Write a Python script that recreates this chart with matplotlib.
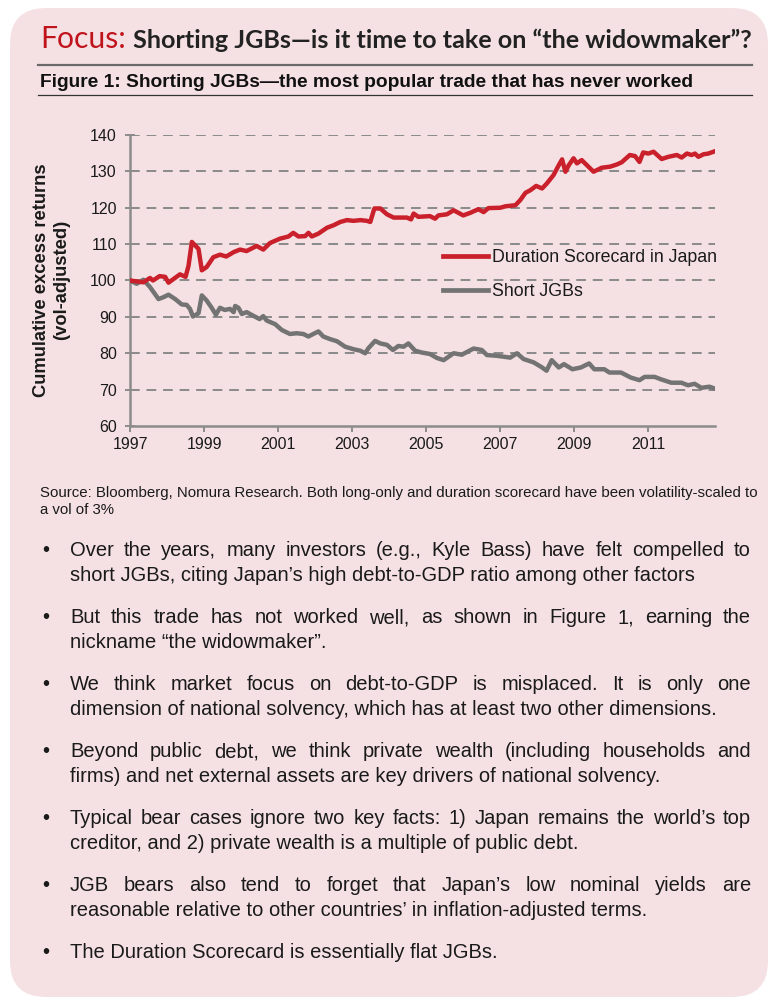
import matplotlib
matplotlib.use("Agg")
import matplotlib.pyplot as plt
from matplotlib.patches import FancyBboxPatch
from matplotlib.lines import Line2D
from matplotlib.transforms import IdentityTransform

W, H = 776, 1000

# ---- data (decimal years) ----
red_t = [1997.0, 1997.36, 1997.54, 1997.62, 1997.8, 1997.95, 1998.04, 1998.35, 1998.5, 1998.58,
         1998.67, 1998.85, 1998.94, 1999.07, 1999.25, 1999.43, 1999.6, 1999.8, 1999.97, 2000.15,
         2000.42, 2000.6, 2000.78, 2001.05, 2001.28, 2001.41, 2001.55, 2001.73, 2001.82, 2001.91,
         2002.09, 2002.32, 2002.5, 2002.68, 2002.86, 2003.04, 2003.22, 2003.4, 2003.49, 2003.6,
         2003.76, 2003.94, 2004.12, 2004.48, 2004.59, 2004.66, 2004.79, 2005.1, 2005.2, 2005.24,
         2005.33, 2005.56, 2005.74, 2006.0, 2006.19, 2006.41, 2006.55, 2006.68, 2007.0, 2007.14,
         2007.41, 2007.54, 2007.68, 2007.81, 2007.97, 2008.13, 2008.26, 2008.44, 2008.58, 2008.67,
         2008.76, 2008.85, 2008.98, 2009.07, 2009.2, 2009.34, 2009.52, 2009.74, 2009.97, 2010.15,
         2010.28, 2010.5, 2010.64, 2010.76, 2010.86, 2011.0, 2011.14, 2011.36, 2011.54, 2011.77,
         2011.9, 2012.04, 2012.17, 2012.26, 2012.35, 2012.49, 2012.62, 2012.76]
red_v = [100.0, 99.5, 100.7, 100.0, 101.2, 101.0, 99.4, 101.7, 101.0, 104.0,
         110.6, 108.7, 102.8, 103.7, 106.4, 107.1, 106.6, 107.8, 108.5, 108.1,
         109.5, 108.5, 110.3, 111.5, 112.1, 113.1, 112.1, 112.2, 113.1, 112.1,
         112.9, 114.5, 115.2, 116.1, 116.6, 116.4, 116.6, 116.4, 116.1, 119.8,
         119.8, 118.2, 117.3, 117.3, 116.8, 118.4, 117.5, 117.7, 117.2, 117.0,
         117.9, 118.2, 119.3, 117.9, 118.6, 119.6, 118.8, 119.9, 120.0, 120.4,
         120.7, 122.1, 124.1, 124.8, 126.0, 125.3, 126.7, 129.0, 131.7, 133.3,
         129.9, 131.7, 133.6, 132.2, 133.1, 131.7, 129.9, 131.0, 131.3, 131.9,
         132.5, 134.5, 134.2, 132.6, 135.2, 134.9, 135.4, 133.4, 134.0, 134.5,
         133.8, 134.9, 134.5, 134.9, 134.0, 134.7, 134.9, 135.4]

gray_t = [1997.0, 1997.18, 1997.36, 1997.54, 1997.77, 1997.9, 1998.04, 1998.22, 1998.4, 1998.53,
          1998.62, 1998.7, 1998.85, 1998.94, 1999.07, 1999.2, 1999.32, 1999.43, 1999.56, 1999.7,
          1999.8, 1999.84, 1999.93, 2000.02, 2000.15, 2000.33, 2000.5, 2000.6, 2000.69, 2000.92,
          2001.1, 2001.32, 2001.5, 2001.68, 2001.82, 2001.95, 2002.09, 2002.22, 2002.4, 2002.59,
          2002.81, 2003.04, 2003.22, 2003.35, 2003.44, 2003.62, 2003.76, 2003.94, 2004.1, 2004.25,
          2004.39, 2004.52, 2004.7, 2004.88, 2005.1, 2005.29, 2005.47, 2005.74, 2005.96, 2006.28,
          2006.5, 2006.64, 2006.91, 2007.27, 2007.45, 2007.63, 2007.9, 2008.13, 2008.25, 2008.39,
          2008.58, 2008.72, 2008.95, 2009.18, 2009.4, 2009.54, 2009.81, 2009.95, 2010.26, 2010.53,
          2010.76, 2010.9, 2011.17, 2011.35, 2011.62, 2011.89, 2012.07, 2012.25, 2012.43, 2012.65,
          2012.79]
gray_v = [100.0, 99.1, 100.2, 98.2, 94.9, 95.4, 96.1, 94.9, 93.4, 93.3,
          92.2, 90.1, 91.0, 95.9, 94.5, 92.6, 90.6, 92.5, 91.9, 92.2,
          91.3, 93.0, 92.5, 90.8, 91.3, 90.3, 89.4, 90.2, 89.0, 88.0,
          86.4, 85.3, 85.5, 85.3, 84.6, 85.3, 86.0, 84.6, 83.9, 83.3,
          81.8, 81.1, 80.7, 80.0, 81.4, 83.4, 82.7, 82.3, 80.9, 82.0,
          81.8, 82.7, 80.7, 80.2, 79.8, 78.7, 78.1, 80.0, 79.6, 81.3,
          80.9, 79.5, 79.3, 78.8, 80.0, 78.4, 77.5, 76.1, 75.2, 78.1,
          76.1, 77.0, 75.6, 76.1, 77.2, 75.6, 75.6, 74.7, 74.7, 73.3,
          72.6, 73.5, 73.5, 72.8, 71.9, 71.9, 71.2, 71.6, 70.5, 70.8,
          70.3]

series_names = ["Duration Scorecard in Japan", "Short JGBs"]
year_ticks = [1997, 1999, 2001, 2003, 2005, 2007, 2009, 2011]
value_ticks = [60, 70, 80, 90, 100, 110, 120, 130, 140]
ylabel_lines = ["Cumulative excess returns", "(vol-adjusted)"]

header_red = "Focus:"
header_rest = "Shorting JGBs\u2014is it time to take on \u201cthe widowmaker\u201d?"
fig_title = "Figure 1: Shorting JGBs\u2014the most popular trade that has never worked"
source_lines = ["Source: Bloomberg, Nomura Research. Both long-only and duration scorecard have been volatility-scaled to",
                "a vol of 3%"]
bullets = [
    ["Over the years, many investors (e.g., Kyle Bass) have felt compelled to",
     "short JGBs, citing Japan\u2019s high debt-to-GDP ratio among other factors"],
    ["But this trade has not worked well, as shown in Figure 1, earning the",
     "nickname \u201cthe widowmaker\u201d."],
    ["We think market focus on debt-to-GDP is misplaced. It is only one",
     "dimension of national solvency, which has at least two other dimensions."],
    ["Beyond public debt, we think private wealth (including households and",
     "firms) and net external assets are key drivers of national solvency."],
    ["Typical bear cases ignore two key facts: 1) Japan remains the world\u2019s top",
     "creditor, and 2) private wealth is a multiple of public debt."],
    ["JGB bears also tend to forget that Japan\u2019s low nominal yields are",
     "reasonable relative to other countries\u2019 in inflation-adjusted terms."],
    ["The Duration Scorecard is essentially flat JGBs."],
]

PANEL = "#f5e1e3"
RED = "#c9202b"
GREY = "#737373"
TXT = "#1a1a1a"

plt.rcParams['font.family'] = ['Liberation Sans', 'DejaVu Sans']

fig = plt.figure(figsize=(W / 100, H / 100), dpi=100)
fig.patch.set_facecolor("white")
renderer = fig.canvas.get_renderer()


def fx(x):
    return x / W


def fy(y):
    return 1 - y / H


# rounded pink panel (pixel coords), kept behind the axes
panel = FancyBboxPatch((10, 3), 758, 989, boxstyle="round,pad=0,rounding_size=36",
                       transform=IdentityTransform(), facecolor=PANEL, edgecolor="none", zorder=-5)
fig.patches.append(panel)


def fit_text(x, y, s, width, **kw):
    t = fig.text(fx(x), fy(y), s, fontsize=10, va="baseline", ha="left", **kw)
    w = t.get_window_extent(renderer).width
    t.set_fontsize(10 * width / w)
    return t


# header
fit_text(40, 48, header_red, 86, color="#c0141c", family=["Lato", "DejaVu Sans"])
fit_text(133, 48, header_rest, 619, color="#222222", family=["Lato", "DejaVu Sans"], weight="bold")
fig.add_artist(Line2D([fx(38), fx(752)], [fy(65), fy(65)], color="#6a6a6a", lw=1.6))
fit_text(40, 87, fig_title, 655, color="#111111",
         family=["Liberation Sans Narrow", "Liberation Sans", "DejaVu Sans"], weight="bold")
fig.add_artist(Line2D([fx(38), fx(752)], [fy(95), fy(95)], color="#333333", lw=0.9))

# chart
ax = fig.add_axes([fx(130), fy(426), fx(715) - fx(130), (426 - 135) / H])
ax.set_facecolor("none")
ax.plot(gray_t, gray_v, color=GREY, lw=3.2, label=series_names[1], zorder=3, solid_joinstyle="round")
ax.plot(red_t, red_v, color=RED, lw=3.2, label=series_names[0], zorder=4, solid_joinstyle="round")
ax.set_xlim(1997, 2012.8)
ax.set_ylim(60, 140)
ax.set_xticks(year_ticks)
ax.set_yticks(value_ticks)
for v in value_ticks[1:]:
    ax.axhline(v, color="#8a8a8a", lw=1.4, ls=(0, (5, 3.5)), zorder=1)
for side in ["top", "right"]:
    ax.spines[side].set_visible(False)
for side in ["left", "bottom"]:
    ax.spines[side].set_color("#8c8c8c")
    ax.spines[side].set_linewidth(1.8)
ax.tick_params(axis="both", colors="#8c8c8c", width=1.4, labelsize=11.5, labelcolor=TXT)
ax.tick_params(axis="y", direction="inout", length=7, pad=6)
ax.tick_params(axis="x", direction="out", length=4, pad=4)

# axis title: two rotated lines, both centred on the axis
fig.text(fx(42), fy(280), ylabel_lines[0], rotation=90, fontsize=13.2, weight="bold",
         color=TXT, ha="center", va="center")
fig.text(fx(62), fy(280), ylabel_lines[1], rotation=90, fontsize=13.2, weight="bold",
         color=TXT, ha="center", va="center")

handles, labels = ax.get_legend_handles_labels()
leg = ax.legend(handles[::-1], labels[::-1], loc="upper left", bbox_to_anchor=(0.535, 0.607),
                frameon=False, fontsize=12.8, handlelength=2.55, handletextpad=0.2,
                labelspacing=0.95, borderaxespad=0, borderpad=0)
for t in leg.get_texts():
    t.set_color(TXT)
for h in leg.legend_handles:
    h.set_linewidth(3.4)

# source
src = fit_text(40, 497, source_lines[0], 720, color=TXT)
fig.text(fx(40), fy(514), source_lines[1], fontsize=src.get_fontsize(), color=TXT, va="baseline")

# bullets, justified like the original
BODY = 14.5
X0, X1 = 70, 751


def justified(line, y):
    words = line.split(" ")
    texts = [fig.text(0, fy(y), w, fontsize=BODY, color=TXT, va="baseline") for w in words]
    widths = [t.get_window_extent(renderer).width for t in texts]
    gap = (X1 - X0 - sum(widths)) / (len(words) - 1)
    x = X0
    for t, w in zip(texts, widths):
        t.set_x(fx(x))
        x += w + gap


y = 556
for para in bullets:
    fig.text(fx(42), fy(y), "\u2022", fontsize=BODY, color=TXT, va="baseline")
    for i, line in enumerate(para):
        if i < len(para) - 1:
            justified(line, y)
        else:
            fig.text(fx(X0), fy(y), line, fontsize=BODY, color=TXT, va="baseline")
        y += 25
    y += 17

fig.savefig("out.png", dpi=100, facecolor="white")
